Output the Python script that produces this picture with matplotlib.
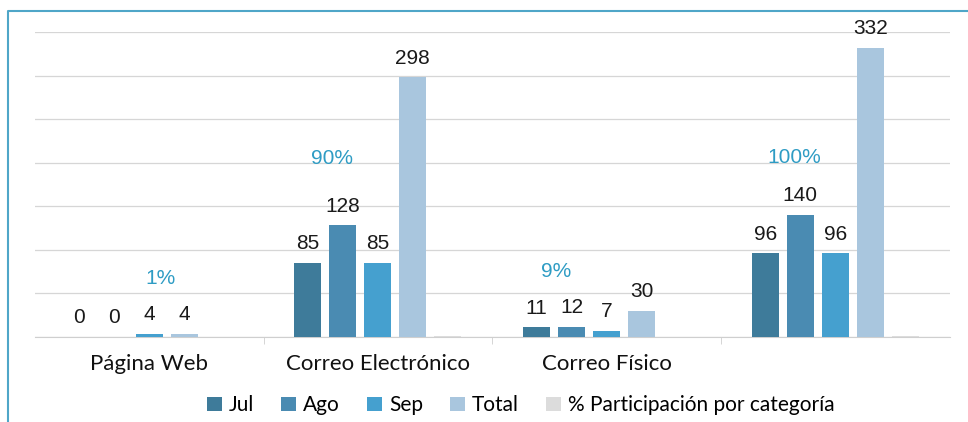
import numpy as np
import matplotlib.pyplot as plt
from matplotlib.lines import Line2D

# data
categories = ["Página Web", "Correo Electrónico", "Correo Físico", ""]
jul = [0, 85, 11, 96]
ago = [0, 128, 12, 140]
sep = [4, 85, 7, 96]
total = [4, 298, 30, 332]
pct = [0.01, 0.90, 0.09, 1.00]
pct_labels = ["1%", "90%", "9%", "100%"]

series_names = ["Jul", "Ago", "Sep", "Total", "% Participación por categoría"]
colors = ["#3e7b9a", "#4a8bb2", "#45a0cf", "#a9c6de", "#dcdcdc"]

fig = plt.figure(figsize=(9.68, 4.22), dpi=100)
ax = fig.add_axes([0.036, 0.2014, 0.945, 0.7228])

x = np.arange(len(categories))
step = 0.153
width = 0.118
values = [jul, ago, sep, total, pct]
for i, (name, vals, col) in enumerate(zip(series_names, values, colors)):
    xs = x + (i - 2) * step
    ax.bar(xs, vals, width=width, color=col, label=name, zorder=3)
    if i < 4:
        for xi, v in zip(xs, vals):
            ax.text(xi, v + 11, str(v), ha="center", va="bottom",
                    fontsize=15, family="Liberation Sans", color="#1a1a1a")

# percentage labels placed by hand above each group
pct_dx = [0.05, -0.2, -0.22, -0.18]
pct_y = [67, 205, 75, 206]
for xi, dx, yy, lab in zip(x, pct_dx, pct_y, pct_labels):
    ax.text(xi + dx, yy, lab, ha="center", va="center", fontsize=15,
            family="Liberation Sans", color="#2e9cc4")

ax.set_xlim(-0.5, len(categories) - 0.5)
ax.set_ylim(0, 350)
ax.set_yticks(np.arange(0, 351, 50))
ax.yaxis.grid(True, color="#d6d6d6", linewidth=0.9, zorder=0)
ax.tick_params(axis="y", left=False, labelleft=False)
for s in ["top", "right", "left"]:
    ax.spines[s].set_visible(False)
ax.spines["bottom"].set_color("#cfcfcf")

ax.set_xticks(x)
ax.set_xticklabels(categories, fontsize=16, family="Lato", color="#111111")
ax.tick_params(axis="x", length=0, pad=12)
ax.set_xticks(np.arange(0.5, len(categories) - 0.5, 1), minor=True)
ax.tick_params(axis="x", which="minor", length=5, color="#cfcfcf")

fig.legend(loc="center", bbox_to_anchor=(0.538, 0.04), ncol=5,
           frameon=False, handlelength=0.7, handleheight=0.7,
           handletextpad=0.35, columnspacing=1.3,
           prop={"family": "Lato", "size": 15})

# chart border (scan shows only the top and left edges)
fig.add_artist(Line2D([8 / 968, 8 / 968, 1.0], [0.0, 1 - 11 / 422, 1 - 11 / 422],
                      transform=fig.transFigure, color="#4fa6c8", linewidth=1.5))

fig.savefig("out.png", dpi=100)
